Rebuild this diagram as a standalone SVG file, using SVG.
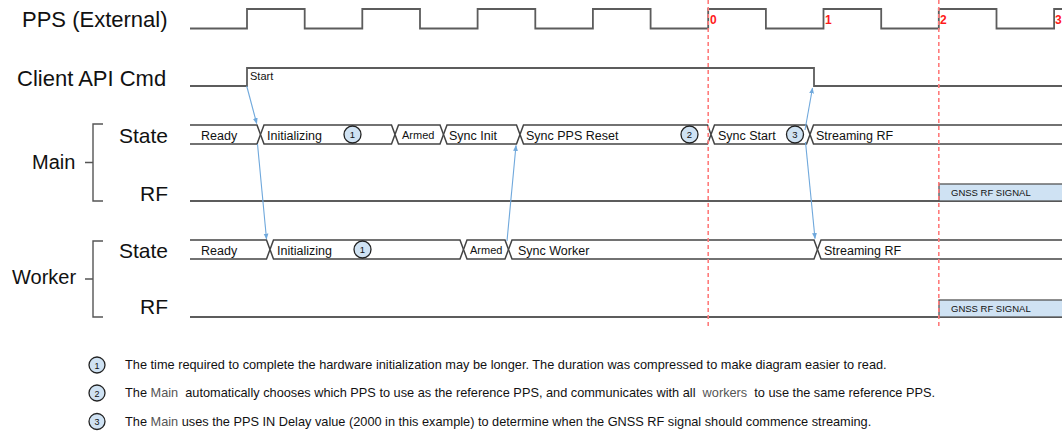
<svg xmlns="http://www.w3.org/2000/svg" width="1062" height="434" viewBox="0 0 1062 434">
<style>
text{font-family:"Liberation Sans",Arial,sans-serif;fill:#111}
.lbl{font-size:21px}
.top{font-size:22px}
.grp{font-size:20px}
.bt{font-size:12.5px}
.sm{font-size:11px}
.sig{fill:none;stroke:#5c5c5c;stroke-width:1.8}
.bus{fill:#fff;stroke:#444;stroke-width:1.5}
.brk{fill:none;stroke:#555;stroke-width:1.4}
.mark{fill:#cfe2f3;stroke:#222;stroke-width:1.3}
.mn{font-size:9.5px;text-anchor:middle}
.red{stroke:#ff7b7b;stroke-width:1.6;stroke-dasharray:4 3}
.rn{font-size:12px;font-weight:bold;fill:#ff1a1a}
.rf{fill:#cfe2f3;stroke:#555;stroke-width:1.3}
.rft{font-size:9.5px}
.arr{stroke:#6fa8dc;stroke-width:1.1;fill:none;marker-end:url(#ah)}
.note{font-size:12.75px}
.kw{fill:#555}
</style>
<defs>
<marker id="ah" viewBox="0 0 10 10" refX="9" refY="5" markerWidth="6" markerHeight="6" orient="auto" markerUnits="userSpaceOnUse">
<path d="M0,1 L10,5 L0,9 Z" fill="#6fa8dc"/>
</marker>
</defs>

<g id="labels">
<text class="top" x="22" y="27">PPS (External)</text>
<text class="top" x="17" y="86">Client API Cmd</text>
<text class="lbl" x="168" y="143" text-anchor="end">State</text>
<text class="grp" x="32" y="169">Main</text>
<text class="lbl" x="168" y="201" text-anchor="end">RF</text>
<text class="lbl" x="168" y="258" text-anchor="end">State</text>
<text class="grp" x="12" y="284">Worker</text>
<text class="lbl" x="168" y="314" text-anchor="end">RF</text>
</g>

<g id="brackets">
<path class="brk" d="M103,124 H93 V201 H103 M85,162.5 H93"/>
<path class="brk" d="M103,241 H93 V317 H103 M85,279 H93"/>
</g>

<g id="pps">
<path class="sig" d="M190,28.5 H247 V9 H304.7 V28.5 H362.3 V9 H420 V28.5 H477.6 V9 H535.3 V28.5 H592.9 V9 H650.6 V28.5 H708.2 V9 H765.9 V28.5 H823.5 V9 H881.2 V28.5 H938.8 V9 H996.5 V28.5 H1054.1 V9 H1062"/>
</g>

<g id="client-api">
<path class="sig" d="M190,86 H247 V68 H814 V86 H1062"/>
<text class="sm" x="250" y="80">Start</text>
</g>

<g id="main-state">
<path class="bus" d="M190,125 H257 L260.5,134.5 L257,144 H190"/>
<path class="bus" d="M260.5,134.5 L264,125 H391.5 L395,134.5 L391.5,144 H264 Z"/>
<path class="bus" d="M395,134.5 L398.5,125 H440 L443.5,134.5 L440,144 H398.5 Z"/>
<path class="bus" d="M443.5,134.5 L447,125 H516.5 L520,134.5 L516.5,144 H447 Z"/>
<path class="bus" d="M520,134.5 L523.5,125 H707.5 L711,134.5 L707.5,144 H523.5 Z"/>
<path class="bus" d="M711,134.5 L714.5,125 H806.5 L810,134.5 L806.5,144 H714.5 Z"/>
<path class="bus" d="M1062,125 H813.5 L810,134.5 L813.5,144 H1062"/>
<text class="bt" x="201" y="139.5">Ready</text>
<text class="bt" x="267" y="139.5">Initializing</text>
<circle class="mark" cx="352.5" cy="134.5" r="8.5"/><text class="mn" x="352.5" y="138">1</text>
<text class="sm" x="402" y="138.5">Armed</text>
<text class="bt" x="449" y="139.5">Sync Init</text>
<text class="bt" x="526" y="139.5">Sync PPS Reset</text>
<circle class="mark" cx="689.5" cy="134.5" r="8.5"/><text class="mn" x="689.5" y="138">2</text>
<text class="bt" x="718" y="139.5">Sync Start</text>
<circle class="mark" cx="795" cy="134.5" r="8.5"/><text class="mn" x="795" y="138">3</text>
<text class="bt" x="816" y="139.5">Streaming RF</text>
</g>

<g id="main-rf">
<path class="sig" d="M190,201 H1062"/>
<rect class="rf" x="939" y="184" width="125" height="17"/>
<text class="rft" x="951" y="196">GNSS RF SIGNAL</text>
</g>

<g id="worker-state">
<path class="bus" d="M190,240 H266.5 L270,249.5 L266.5,259 H190"/>
<path class="bus" d="M270,249.5 L273.5,240 H460 L463.5,249.5 L460,259 H273.5 Z"/>
<path class="bus" d="M463.5,249.5 L467,240 H505 L508.5,249.5 L505,259 H467 Z"/>
<path class="bus" d="M508.5,249.5 L512,240 H814 L817.5,249.5 L814,259 H512 Z"/>
<path class="bus" d="M1062,240 H821 L817.5,249.5 L821,259 H1062"/>
<text class="bt" x="201" y="254.5">Ready</text>
<text class="bt" x="277" y="254.5">Initializing</text>
<circle class="mark" cx="362.5" cy="249.5" r="8.5"/><text class="mn" x="362.5" y="253">1</text>
<text class="sm" x="470" y="253.5">Armed</text>
<text class="bt" x="518" y="254.5">Sync Worker</text>
<text class="bt" x="824" y="254.5">Streaming RF</text>
</g>

<g id="worker-rf">
<path class="sig" d="M190,317 H1062"/>
<rect class="rf" x="939" y="300" width="125" height="17"/>
<text class="rft" x="951" y="312">GNSS RF SIGNAL</text>
</g>

<g id="pps-markers">
<line class="red" x1="708.2" y1="0" x2="708.2" y2="326"/>
<line class="red" x1="938.8" y1="0" x2="938.8" y2="326"/>
<text class="rn" x="710" y="24">0</text>
<text class="rn" x="825" y="24">1</text>
<text class="rn" x="940" y="24">2</text>
<text class="rn" x="1055" y="24">3</text>
</g>

<g id="connectors">
<line class="arr" x1="246.7" y1="86" x2="256.7" y2="123.5"/>
<line class="arr" x1="257.5" y1="144" x2="266.5" y2="239"/>
<line class="arr" x1="507" y1="241" x2="516" y2="145.5"/>
<line class="arr" x1="805" y1="130" x2="812.5" y2="88"/>
<line class="arr" x1="805.5" y1="142" x2="815" y2="238.5"/>
</g>

<g id="notes">
<circle class="mark" cx="97" cy="365" r="8"/><text class="mn" x="97" y="368.5" style="font-size:9px">1</text>
<text class="note" x="125" y="369">The time required to complete the hardware initialization may be longer. The duration was compressed to make diagram easier to read.</text>
<circle class="mark" cx="97" cy="393" r="8"/><text class="mn" x="97" y="396.5" style="font-size:9px">2</text>
<text class="note" x="125" y="397" xml:space="preserve">The <tspan class="kw">Main</tspan>  automatically chooses which PPS to use as the reference PPS, and communicates with all  <tspan class="kw">workers</tspan>  to use the same reference PPS.</text>
<circle class="mark" cx="97" cy="421.5" r="8"/><text class="mn" x="97" y="425" style="font-size:9px">3</text>
<text class="note" x="125" y="425.5">The <tspan class="kw">Main</tspan> uses the PPS IN Delay value (2000 in this example) to determine when the GNSS RF signal should commence streaming.</text>
</g>
</svg>
